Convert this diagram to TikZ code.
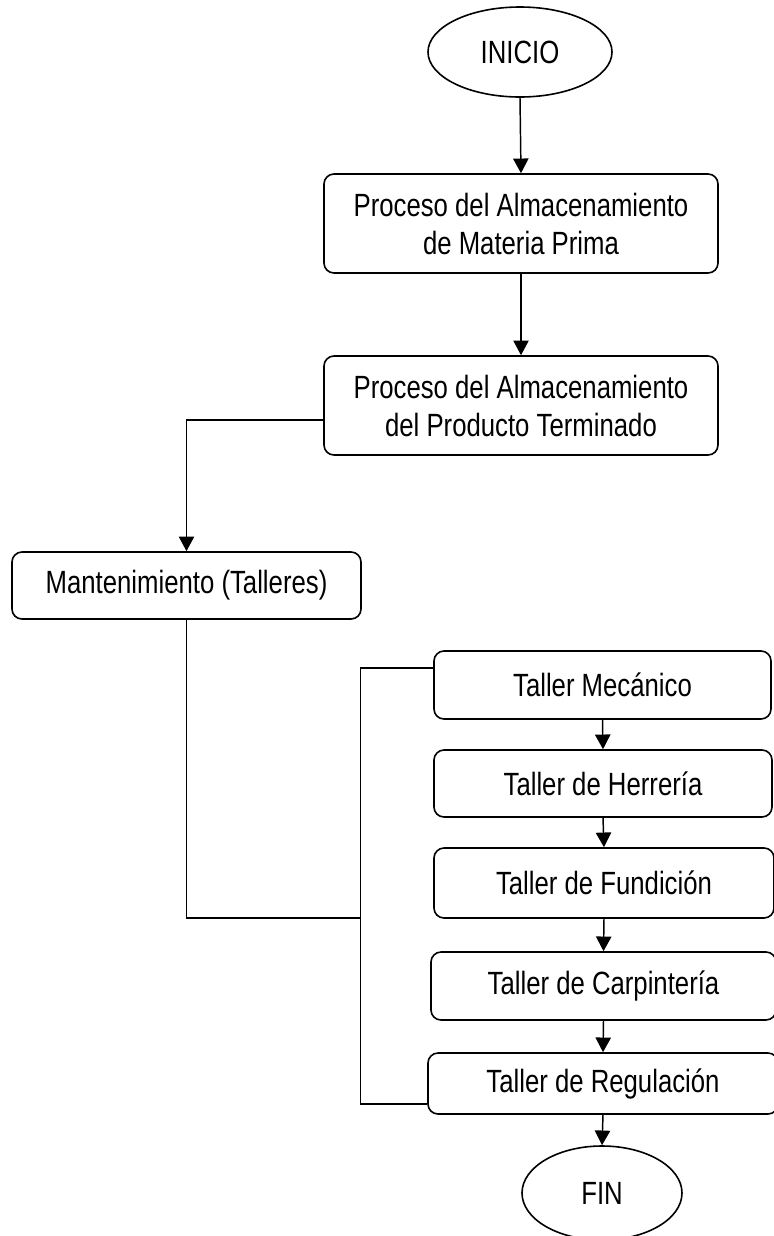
\documentclass[tikz,border=0pt]{standalone}
\usepackage{fontspec}
\setmainfont{Liberation Sans}
\usetikzlibrary{shapes.geometric,arrows.meta,calc}
% tall, narrow lettering for every label line
\newcommand\tallline[1]{\scalebox{1}[1.25]{#1}}
\begin{document}
\begin{tikzpicture}[x=0.75pt,y=-0.75pt,
  every node/.style={font=\fontsize{19.3}{28.5}\selectfont, align=center, inner sep=0pt},
  procbox/.style={draw, line width=1.2pt, rounded corners=7.5pt},
  terminal/.style={draw, line width=1.2pt, ellipse},
  link/.style={line width=1.1pt},
  arr/.style={link, -{Triangle[length=11pt,width=11.5pt]}}]
\useasboundingbox (0,0) rectangle (774,1236);

% terminals
\node[terminal, minimum width=184*0.75pt, minimum height=90*0.75pt] (inicio) at (520,52) {\tallline{INICIO}};
\node[terminal, minimum width=160*0.75pt, minimum height=94*0.75pt] (fin) at (602,1193) {\tallline{FIN}};

% main processes
\node[procbox, minimum width=394*0.75pt, minimum height=99*0.75pt] (b1) at (521,223.5)
  {\tallline{Proceso del Almacenamiento}\\\tallline{de Materia Prima}};
\node[procbox, minimum width=394*0.75pt, minimum height=99*0.75pt] (b2) at (521,405.5)
  {\tallline{Proceso del Almacenamiento}\\\tallline{del Producto Terminado}};
\node[procbox, minimum width=349*0.75pt, minimum height=67*0.75pt] (mant) at (186.5,585.5)
  {\tallline{Mantenimiento (Talleres)}};

% workshops
\node[procbox, minimum width=337*0.75pt, minimum height=68*0.75pt] (t1) at (602.5,685) {\tallline{Taller Mecánico}};
\node[procbox, minimum width=338*0.75pt, minimum height=67*0.75pt] (t2) at (603,783.5) {\tallline{Taller de Herrería}};
\node[procbox, minimum width=340*0.75pt, minimum height=70*0.75pt] (t3) at (604,883) {\tallline{Taller de Fundición}};
\node[procbox, minimum width=345*0.75pt, minimum height=68*0.75pt] (t4) at (603.5,986) {\tallline{Taller de Carpintería}};
\node[procbox, minimum width=350*0.75pt, minimum height=61*0.75pt] (t5) at (603,1083.5) {\tallline{Taller de Regulación}};

% bus joining the workshops
\coordinate (bt) at (360.5,668);
\coordinate (bj) at (360.5,918);
\coordinate (bb) at (360.5,1104);

% connectors
\draw[arr] (inicio.south) -- (b1.north);
\draw[arr] (b1.south) -- (b2.north);
\draw[arr] ($(b2.west)+(0,14.5)$) -| (mant.north);
\draw[link] (mant.south) |- (bj);
\draw[link] (bt -| t1.west) -- (bt) -- (bb) -- (bb -| t5.west);
\draw[arr] (t1.south) -- (t2.north);
\draw[arr] (t2.south) -- (t3.north);
\draw[arr] (t3.south) -- (t4.north);
\draw[arr] (t4.south) -- (t5.north);
\draw[arr] (t5.south) -- (fin.north);
\end{tikzpicture}
\end{document}
